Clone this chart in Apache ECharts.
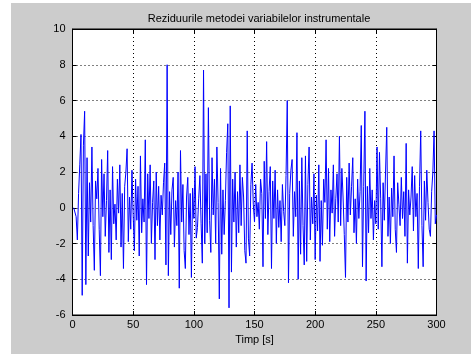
<!DOCTYPE html>
<html>
<head>
<meta charset="utf-8">
<script src="https://cdn.jsdelivr.net/npm/echarts@6/dist/echarts.min.js"></script>
<style>html,body{margin:0;padding:0;background:#fff}#c{width:471px;height:354px}</style>
</head>
<body>
<div id="c"></div>
<script>
const titleText = "Reziduurile metodei variabilelor instrumentale";
const xLabelText = "Timp [s]";
const xTicks = [0, 50, 100, 150, 200, 250, 300];
const yTicks = [-6, -4, -2, 0, 2, 4, 6, 8, 10];
const residuals = [
  0, 0, -0.5, -1.8, 0.8, 2.4, 4.1, -4.9, 3.5, 5.4,
  -4.3, 2.8, -2.7, 1.4, -0.8, 3.4, -1.0, -3.5, 1.5, 0.5,
  2.2, -1.2, -3.8, 2.7, -0.5, 1.9, -1.6, 0.4, 3.2, -2.5,
  1.0, -2.9, 2.3, -0.9, 0.2, -1.8, 1.6, -0.3, 2.4, -2.2,
  0.8, -3.4, 1.2, 2.0, 3.3, -1.9, 0.6, -1.2, 2.1, -0.4,
  -2.4, 1.6, -0.7, 1.2, -2.7, 2.9, -1.4, 0.5, -0.8, 3.8,
  -4.3, 1.9, -0.6, 2.4, -2.0, 0.3, 1.5, -2.9, 2.0, -1.0,
  1.2, -1.8, 0.7, -0.4, 1.4, 2.5, -3.2, 8.0, -3.8, 0.9,
  -1.5, 1.0, 1.7, -2.2, 0.4, -1.0, 2.0, -4.5, 3.2, -0.8,
  1.3, -2.4, -3.4, 0.6, 1.7, -1.5, 0.8, -3.9, 1.1, -0.6,
  2.3, -1.7, -1.1, 0.5, 1.8, -0.9, -3.1, 7.7, -2.0, 1.9,
  -1.4, 5.6, -0.7, -2.5, 2.8, -0.4, 1.6, -2.0, 3.4, 0.3,
  -5.1, 2.2, -2.6, 1.0, -1.5, 0.4, 3.1, 4.7, -5.6, 5.7,
  -3.6, 1.6, -0.8, 2.0, -2.2, 0.9, -1.4, 2.4, -1.0, 1.7,
  0.6, -2.4, -3.1, 4.3, -1.7, -2.7, 1.3, 2.5, 0.2, -0.8,
  1.3, -0.5, 0.3, -1.2, 1.6, 0.8, -3.3, 2.6, -0.6, 3.7,
  -1.5, 0.9, 2.3, -3.4, 1.5, -0.6, 2.1, -2.0, 1.0, -1.1,
  0.4, -1.9, 1.3, -0.2, -1.0, 1.8, 6.0, -4.2, 0.8, 2.1,
  2.7, -1.6, 0.9, -0.5, 4.2, -4.0, 1.5, -2.6, 2.8, -1.0,
  -3.2, 2.9, -3.0, 1.3, 3.4, -1.8, 0.6, -0.9, 1.9, -2.9,
  0.7, -1.3, 2.4, -3.0, 0.4, -2.1, 1.6, 0.3, 3.8, -1.2,
  2.2, -1.9, 1.0, -0.3, 2.4, -1.6, 0.5, 1.9, -0.8, 4.0,
  -1.0, 2.2, 0.6, -1.5, -3.9, 1.7, -0.8, 2.5, -0.4, 1.2,
  2.8, -1.4, 0.5, -2.0, 1.6, -0.6, 0.9, 4.6, -3.3, 1.2,
  5.4, -4.1, 1.2, -1.4, 2.2, -0.6, 1.0, -1.8, 0.4, -0.9,
  3.4, -1.2, 3.1, 0.5, -3.3, 1.4, -0.7, 2.0, 4.5, -1.6,
  0.6, -2.0, 1.1, -0.5, 2.9, -1.2, -2.5, 1.4, 0.2, -1.0,
  1.7, -0.6, 0.9, -1.6, 3.6, -3.1, 1.0, -0.4, 0.6, 2.3,
  -1.3, 1.8, -0.5, 0.8, -3.4, 1.2, 4.3, -1.0, -3.3, 1.5,
  -0.7, 2.1, 0.3, -1.2, -1.6, 0.9, 2.0, 4.3, -0.9, -0.4
];

const seriesData = residuals.map((v, i) => [i + 1, v]);
const font = "Liberation Sans, Arial, sans-serif";
const chart = echarts.init(document.getElementById('c'), null, {renderer: 'canvas'});

const baseX = {
  type: 'value', min: xTicks[0], max: xTicks[xTicks.length - 1], interval: 50
};
const baseY = {
  type: 'value', min: yTicks[0], max: yTicks[yTicks.length - 1], interval: 2
};

chart.setOption({
  animation: false,
  backgroundColor: '#ffffff',
  graphic: [{
    type: 'rect', z: -10, silent: true,
    shape: {x: 11, y: 3, width: 460, height: 351},
    style: {fill: '#cccccc'}
  }],
  title: {
    text: titleText, left: 254, top: 8, textAlign: 'center',
    textStyle: {fontFamily: font, fontSize: 11, fontWeight: 'normal', color: '#000'}
  },
  grid: {
    left: 72.5, top: 29, right: 34.5, bottom: 39,
    show: true, backgroundColor: '#ffffff', borderColor: '#000', borderWidth: 1
  },
  xAxis: [
    Object.assign({}, baseX, {
      position: 'bottom',
      name: xLabelText, nameLocation: 'middle', nameGap: 19,
      nameTextStyle: {fontFamily: font, fontSize: 11, color: '#000'},
      axisLine: {show: true, onZero: false, lineStyle: {color: '#000', width: 1}},
      axisTick: {show: true, inside: true, length: 4, lineStyle: {color: '#000'}},
      axisLabel: {fontFamily: font, fontSize: 11, color: '#000', margin: 4},
      splitLine: {show: true, lineStyle: {color: '#000', type: [1, 3], width: 1}}
    }),
    Object.assign({}, baseX, {
      position: 'top',
      axisLine: {show: true, onZero: false, lineStyle: {color: '#000'}},
      axisTick: {show: true, inside: true, length: 4, lineStyle: {color: '#000'}},
      axisLabel: {show: false},
      splitLine: {show: false}
    })
  ],
  yAxis: [
    Object.assign({}, baseY, {
      position: 'left',
      axisLine: {show: true, onZero: false, lineStyle: {color: '#000', width: 1}},
      axisTick: {show: true, inside: true, length: 4, lineStyle: {color: '#000'}},
      axisLabel: {fontFamily: font, fontSize: 11, color: '#000', margin: 7},
      splitLine: {show: true, lineStyle: {color: '#000', type: [1, 3], width: 1}}
    }),
    Object.assign({}, baseY, {
      position: 'right',
      axisLine: {show: true, onZero: false, lineStyle: {color: '#000'}},
      axisTick: {show: true, inside: true, length: 4, lineStyle: {color: '#000'}},
      axisLabel: {show: false},
      splitLine: {show: false}
    })
  ],
  series: [{
    type: 'line',
    xAxisIndex: 0, yAxisIndex: 0,
    data: seriesData,
    showSymbol: false,
    symbol: 'none',
    lineStyle: {color: '#0000ff', width: 1},
    z: 3
  }]
});
</script>
</body>
</html>
